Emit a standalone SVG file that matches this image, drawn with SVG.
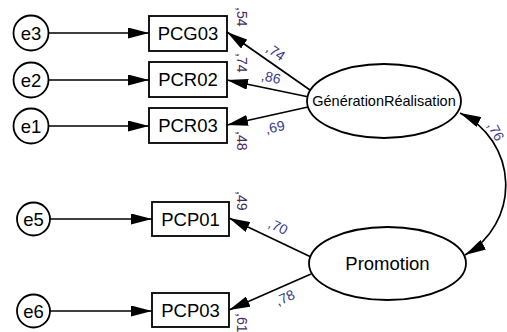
<svg xmlns="http://www.w3.org/2000/svg" width="507" height="332" viewBox="0 0 507 332">
<style>
.node{fill:#fff;stroke:#000;stroke-width:1.8}
.lbl{font-family:"Liberation Sans",Arial,sans-serif;font-size:18.5px;fill:#000;text-anchor:middle}
.lat{font-family:"Liberation Sans",Arial,sans-serif;font-size:14.5px;fill:#000;text-anchor:middle}
.conn{fill:none;stroke:#000;stroke-width:1.7}
.num{font-family:"Liberation Sans",Arial,sans-serif;font-size:14px;fill:#3a3a8a}
.r2{font-family:"Liberation Sans",Arial,sans-serif;font-size:14px;fill:#4a2a5e}
</style>
<defs>
<marker id="ah" markerUnits="userSpaceOnUse" markerWidth="21" markerHeight="11" refX="21" refY="5.5" orient="auto-start-reverse">
<path d="M0,0 L21,5.5 L0,11 z" fill="#000"/>
</marker>
</defs>
<rect width="507" height="332" fill="#fff"/>
<g id="connectors">
<line class="conn" x1="48.5" y1="33" x2="149" y2="33" marker-end="url(#ah)"/>
<line class="conn" x1="48.5" y1="80" x2="149" y2="80" marker-end="url(#ah)"/>
<line class="conn" x1="48.5" y1="126" x2="149" y2="126" marker-end="url(#ah)"/>
<line class="conn" x1="50" y1="219" x2="152" y2="219" marker-end="url(#ah)"/>
<line class="conn" x1="50" y1="311" x2="152" y2="311" marker-end="url(#ah)"/>
<line class="conn" x1="310" y1="90" x2="227" y2="32" marker-end="url(#ah)"/>
<line class="conn" x1="309" y1="97" x2="227" y2="80" marker-end="url(#ah)"/>
<line class="conn" x1="308" y1="107" x2="227" y2="125" marker-end="url(#ah)"/>
<line class="conn" x1="311" y1="257" x2="229" y2="218" marker-end="url(#ah)"/>
<line class="conn" x1="311" y1="274" x2="229" y2="310" marker-end="url(#ah)"/>
<path class="conn" d="M460,113 A80,80 0 0 1 465,255" marker-start="url(#ah)" marker-end="url(#ah)"/>
<text class="num" transform="translate(273,56) rotate(35)" text-anchor="middle">,74</text>
<text class="num" transform="translate(270,82) rotate(11.6)" text-anchor="middle">,86</text>
<text class="num" transform="translate(276,132) rotate(-12.5)" text-anchor="middle">,69</text>
<text class="num" transform="translate(276,231) rotate(26)" text-anchor="middle">,70</text>
<text class="num" transform="translate(287,302) rotate(-24)" text-anchor="middle">,78</text>
<text class="num" transform="translate(487,125) rotate(62)" text-anchor="start">,76</text>
</g>
<g id="e3"><circle class="node" cx="31" cy="33" r="17.5"/><text class="lbl" x="31" y="39.5">e3</text></g>
<g id="e2"><circle class="node" cx="31" cy="80" r="17.5"/><text class="lbl" x="31" y="86.5">e2</text></g>
<g id="e1"><circle class="node" cx="31" cy="126" r="17.5"/><text class="lbl" x="31" y="132.5">e1</text></g>
<g id="e5"><circle class="node" cx="33.5" cy="219" r="16.5"/><text class="lbl" x="33.5" y="225.5">e5</text></g>
<g id="e6"><circle class="node" cx="33.5" cy="311" r="16.5"/><text class="lbl" x="33.5" y="317.5">e6</text></g>
<g id="PCG03"><rect class="node" x="149" y="16" width="78" height="35"/><text class="lbl" x="188" y="40">PCG03</text>
<text class="r2" transform="translate(237,7) rotate(90)">,54</text></g>
<g id="PCR02"><rect class="node" x="149" y="62" width="78" height="35"/><text class="lbl" x="188" y="86">PCR02</text>
<text class="r2" transform="translate(237,53) rotate(90)">,74</text></g>
<g id="PCR03"><rect class="node" x="149" y="108" width="78" height="35"/><text class="lbl" x="188" y="132">PCR03</text>
<text class="r2" transform="translate(237,131) rotate(90)">,48</text></g>
<g id="PCP01"><rect class="node" x="152" y="202" width="77" height="34"/><text class="lbl" x="190.5" y="225.5">PCP01</text>
<text class="r2" transform="translate(237,191) rotate(90)">,49</text></g>
<g id="PCP03"><rect class="node" x="152" y="293" width="77" height="34"/><text class="lbl" x="190.5" y="316.5">PCP03</text>
<text class="r2" transform="translate(237,313) rotate(90)">,61</text></g>
<g id="GenerationRealisation"><ellipse class="node" cx="384" cy="101" rx="77" ry="37"/><text class="lat" x="384" y="106">GénérationRéalisation</text></g>
<g id="Promotion"><ellipse class="node" cx="387.5" cy="263.5" rx="78.5" ry="36.5"/><text class="lbl" x="387.5" y="270">Promotion</text></g>
</svg>
